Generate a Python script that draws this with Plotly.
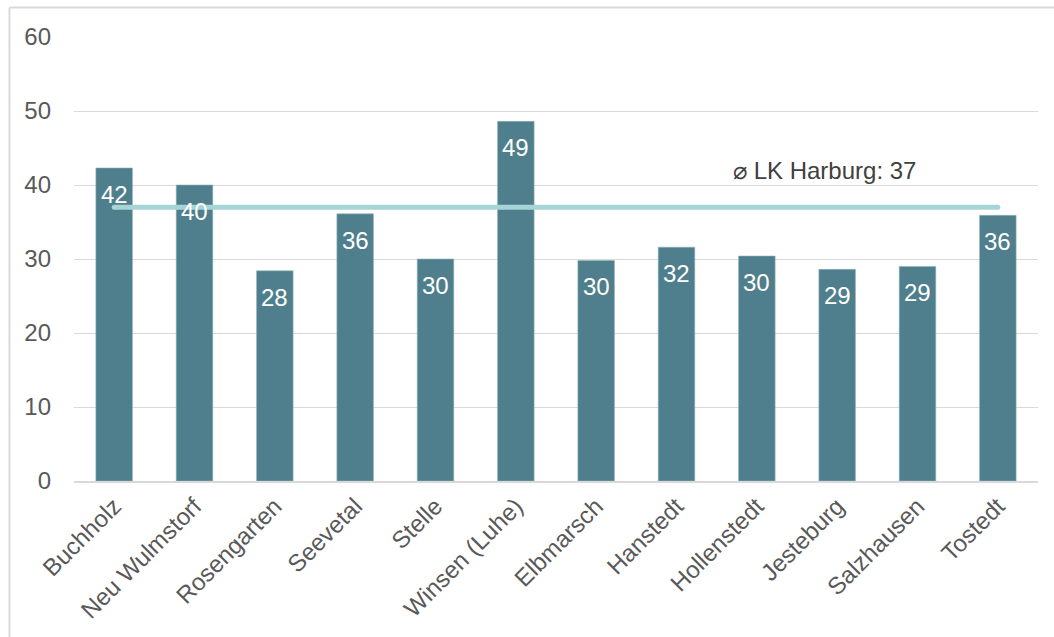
import plotly.graph_objects as go

# Orte im Landkreis Harburg und ihre Werte
orte = ["Buchholz", "Neu Wulmstorf", "Rosengarten", "Seevetal", "Stelle",
        "Winsen (Luhe)", "Elbmarsch", "Hanstedt", "Hollenstedt", "Jesteburg",
        "Salzhausen", "Tostedt"]
werte = [42.3, 40.0, 28.4, 36.1, 30.0, 48.6, 29.8, 31.6, 30.4, 28.6, 29.0, 35.9]
durchschnitt = 37
durchschnitt_text = "⌀ LK Harburg: 37"

bar_color = "#4F7F8C"
avg_color = "#A7D4D7"
grid_color = "#D9D9D9"
text_gray = "#595959"
font_family = "Liberation Sans, Arial, sans-serif"
fs = 24

W, H = 1054, 637
ml, mr, mt, mb = 74, 16, 37, 156
pw, ph = W - ml - mr, H - mt - mb

fig = go.Figure()

fig.add_trace(go.Bar(
    x=orte, y=werte, width=0.455,
    marker=dict(color=bar_color, line=dict(color="#8FB3BC", width=0.6)),
    hoverinfo="x+y", showlegend=False,
))

# Durchschnittslinie von der ersten bis zur letzten Kategorie
fig.add_trace(go.Scatter(
    x=[orte[0], orte[-1]], y=[durchschnitt, durchschnitt],
    mode="lines+markers",
    line=dict(color=avg_color, width=5),
    marker=dict(color=avg_color, size=5),
    hoverinfo="skip", showlegend=False,
))

# Wertbeschriftungen innen am oberen Balkenende
annotations = []
for ort, w in zip(orte, werte):
    annotations.append(dict(
        x=ort, y=w, xref="x", yref="y", text=f"{w:.0f}",
        showarrow=False, yanchor="top", yshift=-11,
        font=dict(family=font_family, size=fs, color="white"),
    ))

annotations.append(dict(
    x=(731 - ml) / pw, y=durchschnitt + 5, xref="paper", yref="y",
    text=durchschnitt_text, showarrow=False, xanchor="left", yanchor="middle",
    font=dict(family=font_family, size=fs, color="#404040"),
))

# Rahmen links und oben
x_left = (9.5 - ml) / pw
y_top = (H - mb - 7.5) / ph
shapes = [
    dict(type="line", xref="paper", yref="paper", x0=x_left, x1=x_left,
         y0=-0.5, y1=y_top, line=dict(color=grid_color, width=2)),
    dict(type="line", xref="paper", yref="paper", x0=x_left, x1=1.2,
         y0=y_top, y1=y_top, line=dict(color=grid_color, width=2)),
]

fig.update_layout(
    width=W, height=H,
    margin=dict(l=ml, r=mr, t=mt, b=mb, autoexpand=False),
    paper_bgcolor="white", plot_bgcolor="white",
    font=dict(family=font_family, size=fs, color=text_gray),
    bargap=0.5,
    annotations=annotations,
    shapes=shapes,
    xaxis=dict(
        range=[-0.5, len(orte) - 0.5], automargin=False,
        tickangle=-45, showgrid=False, ticks="", showline=True,
        linecolor=grid_color, linewidth=1.5,
        tickfont=dict(size=fs, color=text_gray),
    ),
    yaxis=dict(
        range=[0, 60], dtick=10, showgrid=True, gridcolor=grid_color,
        gridwidth=1.3, zeroline=False, showline=False, ticks="",
        automargin=False, ticklabelstandoff=22,
        tickfont=dict(size=fs, color=text_gray),
    ),
)

fig.write_html("out.html")
